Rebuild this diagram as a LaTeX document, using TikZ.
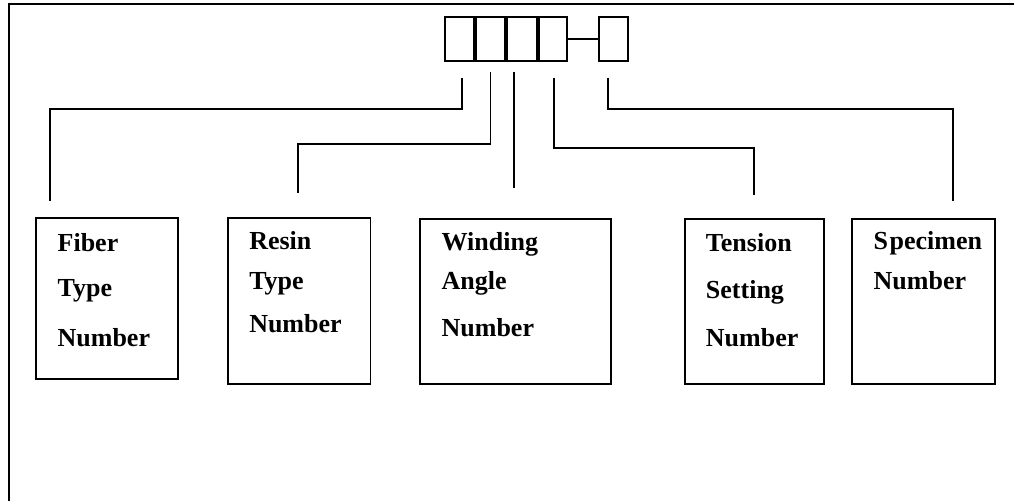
\documentclass[tikz,border=0pt]{standalone}
\usepackage{fontspec}
\setmainfont{Liberation Serif}
\begin{document}
\begin{tikzpicture}[x=1pt,y=-1pt,line width=1.9pt,
  cell/.style={draw,minimum height=43.8pt,inner sep=0pt,anchor=north west},
  box/.style={draw,inner sep=0pt,anchor=north west},
  lbl/.style={inner sep=0pt,anchor=base west,font=\fontsize{26pt}{30pt}\selectfont\bfseries},
  conn/.style={line width=1.9pt}]
\useasboundingbox (0,0) rectangle (1014,501);
% frame
\draw[line width=2.2pt] (9.3,501) -- (9.3,4.3) -- (1014,4.3);
% code cells
\node[cell,minimum width=29.1pt] (d1) at (444.2,16.2) {};
\node[cell,minimum width=29.1pt] (d2) at (475.2,16.2) {};
\node[cell,minimum width=29.5pt] (d3) at (506.2,16.2) {};
\node[cell,minimum width=28.7pt] (d4) at (537.6,16.2) {};
\node[cell,minimum width=29.1pt] (d5) at (597.9,16.2) {};
\draw (d4.east) -- (d5.west);
% boxes
\node[box,minimum width=142.7pt,minimum height=160.8pt] (fiber) at (34.6,216.9) {};
\node[box,minimum width=142.6pt,minimum height=166.1pt] (resin) at (226.9,217.2) {};
\node[box,minimum width=190.5pt,minimum height=165.5pt] (winding) at (419.2,217.6) {};
\node[box,minimum width=139.7pt,minimum height=165.5pt] (tension) at (683.6,217.6) {};
\node[box,minimum width=142.8pt,minimum height=165.5pt] (specimen) at (851.2,217.6) {};
% labels
\node[lbl] (f1) at (56.7,251.7) {Fiber};
\node[lbl] (f2) at (56.7,296.7) {Type};
\node[lbl] (f3) at (56.7,346.7) {Number};
\node[lbl] (r1) at (248.3,249.3) {Resin};
\node[lbl] (r2) at (248.3,289.3) {Type};
\node[lbl] (r3) at (248.3,332.7) {Number};
\node[lbl] (w1) at (440.7,250) {Winding};
\node[lbl] (w2) at (440.7,289.3) {Angle};
\node[lbl] (w3) at (440.7,336.7) {Number};
\node[lbl] (t1) at (705,251) {Tension};
\node[lbl] (t2) at (705,298.3) {Setting};
\node[lbl] (t3) at (705,346.7) {Number};
\node[lbl] (s1) at (872.7,249) {S\kern1.5pt pecimen};
\node[lbl] (s2) at (872.7,289.3) {Number};
% connector end points
\coordinate (a1) at (462,77.7);   \coordinate (a2) at (50,200.7);
\coordinate (b1) at (490.5,71.7); \coordinate (b2) at (298.3,192.7);
\coordinate (c1) at (514.3,71.7); \coordinate (c2) at (514.3,188.3);
\coordinate (e1) at (554.3,77.7); \coordinate (e2) at (754.3,194.5);
\coordinate (g1) at (608.3,77.7); \coordinate (g2) at (952.7,200.7);
% connectors
\draw[conn] (a1) -- ++(0,31) -| (a2);
\draw[conn] (b1) -- ++(0,72.5) -| (b2);
\draw[conn] (c1) -- (c2);
\draw[conn] (e1) -- ++(0,70.6) -| (e2);
\draw[conn] (g1) -- ++(0,31) -| (g2);
\end{tikzpicture}
\end{document}
